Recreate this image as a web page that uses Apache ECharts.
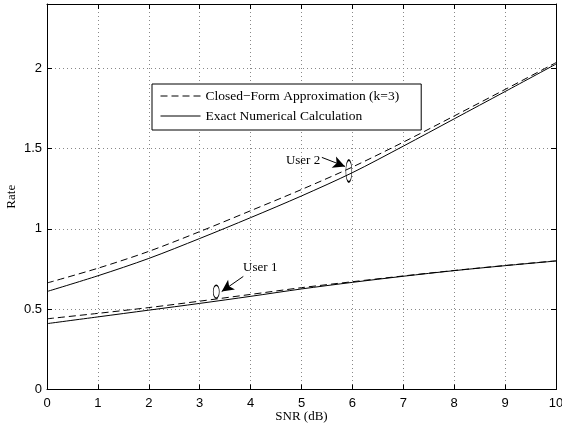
<!DOCTYPE html>
<html>
<head>
<meta charset="utf-8">
<script src="https://cdn.jsdelivr.net/npm/echarts@6/dist/echarts.min.js"></script>
<style>
  html, body { margin: 0; padding: 0; background: #fff; }
  #chart { width: 562px; height: 427px; }
</style>
</head>
<body>
<div id="chart"></div>
<script>
// SNR in dB
const snr = [0, 1, 2, 3, 4, 5, 6, 7, 8, 9, 10];
// rate curves
const user1Exact  = [0.41, 0.452, 0.494, 0.536, 0.58, 0.626, 0.667, 0.705, 0.740, 0.771, 0.80];
const user1Approx = [0.44, 0.474, 0.510, 0.550, 0.592, 0.634, 0.671, 0.707, 0.741, 0.772, 0.801];
const user2Exact  = [0.61, 0.708, 0.816, 0.94, 1.07, 1.205, 1.35, 1.515, 1.685, 1.855, 2.026];
const user2Approx = [0.663, 0.755, 0.86, 0.983, 1.113, 1.245, 1.385, 1.54, 1.703, 1.868, 2.035];

// annotations (data coords)
const user1Text = [4.19, 0.757];
const user1Arrow = [[3.857, 0.704], [3.432, 0.61]];
const user1Ring = [3.325, 0.609];
const user2Text = [5.03, 1.423];
const user2Arrow = [[5.40, 1.445], [5.855, 1.389]];
const user2Ring = [5.93, 1.36];

const approxName = 'Closed\u2212Form Approximation (k=3)';
const exactName = 'Exact Numerical Calculation';
const serif = 'Liberation Serif';
const sans = 'Liberation Sans';
const ellipse = 'path://M0,-1A1,1,0,1,1,0,1A1,1,0,1,1,0,-1Z';

function pairs(ys) {
  return snr.map((x, i) => [x, ys[i]]);
}

function note(text, textPos, arrow, ring, ringSize) {
  return {
    markPoint: {
      silent: true,
      data: [
        {
          coord: ring, symbol: ellipse, symbolSize: ringSize,
          itemStyle: { color: 'transparent', borderColor: '#000', borderWidth: 1 },
          label: { show: false }
        },
        {
          coord: textPos, symbol: 'circle', symbolSize: 0,
          label: { show: true, position: 'inside', formatter: text, color: '#000',
                   fontFamily: serif, fontSize: 13 }
        }
      ]
    },
    markLine: {
      silent: true,
      symbol: ['none', 'arrow'],
      symbolSize: [9, 12],
      label: { show: false },
      lineStyle: { color: '#000', width: 1, type: 'solid' },
      data: [[{ coord: arrow[0] }, { coord: arrow[1] }]]
    }
  };
}

const chart = echarts.init(document.getElementById('chart'));

const lineBase = {
  type: 'line',
  symbol: 'none',
  smooth: 0.3,
  animation: false
};

const frameAxis = {
  axisLine: { show: true, onZero: false, lineStyle: { color: '#000', width: 1 } },
  axisTick: { show: true, inside: true, length: 5, lineStyle: { color: '#000' } },
  axisLabel: { show: false },
  splitLine: { show: false }
};

const option = {
  backgroundColor: '#fff',
  animation: false,
  grid: { left: 47, right: 6, top: 4, bottom: 37.5, outerBoundsMode: 'none', containLabel: false },
  legend: {
    left: 152,
    top: 84,
    orient: 'vertical',
    selectedMode: false,
    data: [approxName, exactName],
    itemWidth: 40,
    itemHeight: 14,
    itemGap: 6,
    padding: [5, 22, 7, 8],
    borderColor: '#000',
    borderWidth: 1,
    backgroundColor: '#fff',
    itemStyle: { opacity: 0 },
    lineStyle: { width: 1 },
    textStyle: { fontFamily: serif, fontSize: 13.5, color: '#000' }
  },
  xAxis: [
    {
      type: 'value', min: 0, max: 10, interval: 1,
      name: 'SNR (dB)', nameLocation: 'middle', nameGap: 21, nameMoveOverlap: false,
      nameTextStyle: { fontFamily: serif, fontSize: 13, color: '#000' },
      axisLine: { onZero: false, lineStyle: { color: '#000', width: 1 } },
      axisTick: { inside: true, length: 5, lineStyle: { color: '#000' } },
      axisLabel: { fontFamily: sans, fontSize: 13, color: '#000', margin: 7 },
      splitLine: { show: true, lineStyle: { color: '#888', type: [1, 3] } }
    },
    Object.assign({ type: 'value', min: 0, max: 10, interval: 1, position: 'top' }, frameAxis)
  ],
  yAxis: [
    {
      type: 'value', min: 0, max: 2.4, interval: 0.5,
      name: 'Rate', nameLocation: 'middle', nameGap: 29, nameMoveOverlap: false,
      nameTextStyle: { fontFamily: serif, fontSize: 13, color: '#000' },
      axisLine: { show: true, onZero: false, lineStyle: { color: '#000', width: 1 } },
      axisTick: { show: true, inside: true, length: 5, lineStyle: { color: '#000' } },
      axisLabel: {
        fontFamily: sans, fontSize: 13, color: '#000', margin: 5,
        formatter: v => (v > 2.2 ? '' : String(v))
      },
      splitLine: { show: true, lineStyle: { color: '#888', type: [1, 3] } }
    },
    Object.assign({ type: 'value', min: 0, max: 2.4, interval: 0.5, position: 'right' }, frameAxis)
  ],
  series: [
    Object.assign({}, lineBase, {
      name: approxName, data: pairs(user2Approx),
      lineStyle: { color: '#000', width: 1, type: [7, 4] }, itemStyle: { color: '#000' }
    }),
    Object.assign({}, lineBase, {
      name: exactName, data: pairs(user2Exact),
      lineStyle: { color: '#000', width: 1, type: 'solid' }, itemStyle: { color: '#000' }
    }, note('User 2', user2Text, user2Arrow, user2Ring, [6, 22])),
    Object.assign({}, lineBase, {
      name: approxName, data: pairs(user1Approx),
      lineStyle: { color: '#000', width: 1, type: [7, 4] }, itemStyle: { color: '#000' }
    }),
    Object.assign({}, lineBase, {
      name: exactName, data: pairs(user1Exact),
      lineStyle: { color: '#000', width: 1, type: 'solid' }, itemStyle: { color: '#000' }
    }, note('User 1', user1Text, user1Arrow, user1Ring, [6, 13]))
  ]
};

chart.setOption(option);
</script>
</body>
</html>
